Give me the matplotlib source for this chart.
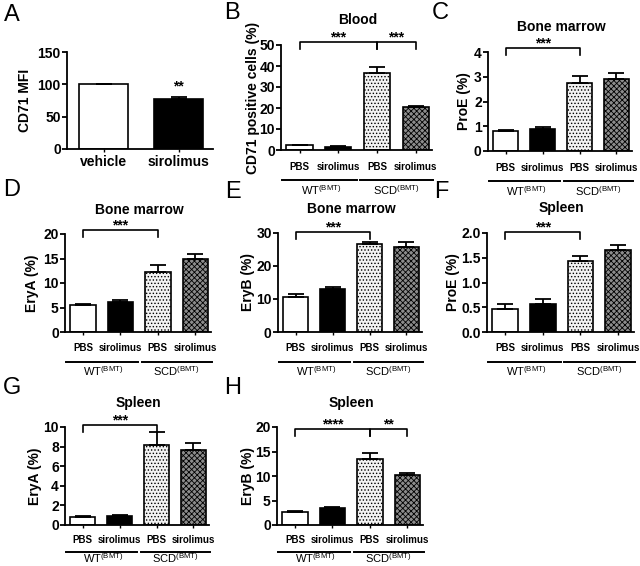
import matplotlib
matplotlib.use('Agg')
import matplotlib.pyplot as plt
import matplotlib.transforms as mtrans
import numpy as np

plt.rcParams['font.family'] = ['Liberation Sans', 'DejaVu Sans']
plt.rcParams['mathtext.fontset'] = 'custom'
plt.rcParams['mathtext.rm'] = 'Liberation Sans'
plt.rcParams['mathtext.default'] = 'regular'
plt.rcParams['hatch.linewidth'] = 0.6

# ---- data ----
a_labels = ['vehicle', 'sirolimus']
a_values = [100, 78]
a_errors = [0.5, 2.6]

bar_labels = ['PBS', 'sirolimus', 'PBS', 'sirolimus']
group_labels = ['WT$^{(BMT)}$', 'SCD$^{(BMT)}$']

b_values = [2.4, 1.6, 36.8, 20.6]
b_errors = [0.2, 0.2, 2.8, 0.4]
c_values = [0.82, 0.88, 2.73, 2.91]
c_errors = [0.02, 0.07, 0.31, 0.25]
d_values = [5.5, 6.2, 12.2, 14.9]
d_errors = [0.3, 0.3, 1.4, 1.0]
e_values = [10.5, 13.0, 26.7, 25.9]
e_errors = [0.9, 0.7, 0.5, 1.3]
f_values = [0.47, 0.56, 1.44, 1.66]
f_errors = [0.09, 0.10, 0.09, 0.10]
g_values = [0.85, 0.96, 8.2, 7.7]
g_errors = [0.04, 0.1, 1.25, 0.65]
h_values = [2.6, 3.5, 13.4, 10.2]
h_errors = [0.2, 0.2, 1.3, 0.5]

W, H = 640, 566
fig = plt.figure(figsize=(W / 100, H / 100), dpi=100)

faces = ['white', 'black', '#f2f2f2', '#8c8c8c']
hatches = [None, None, '.....', 'xxxxxx']


def px_axes(x0, x1, ytop, ybot):
    # axes box given in pixels of the 640x566 image
    return fig.add_axes([x0 / W, 1 - ybot / H, (x1 - x0) / W, (ybot - ytop) / H])


def style_axes(ax, ymax, ystep, fmt):
    for s in ['top', 'right']:
        ax.spines[s].set_visible(False)
    for s in ['left', 'bottom']:
        ax.spines[s].set_linewidth(1.3)
    ax.set_ylim(0, ymax)
    ticks = np.arange(0, ymax + ystep / 2, ystep)
    ax.set_yticks(ticks)
    ax.set_yticklabels([fmt.format(t) for t in ticks], fontsize=10, fontweight='bold')
    ax.tick_params(axis='y', length=3.5, width=1.3, pad=1)
    ax.tick_params(axis='x', length=2.5, width=1.0)


def ylab(ax, text, dx, width):
    ax.set_ylabel(text, fontsize=10, fontweight='bold')
    ax.yaxis.label.set_verticalalignment('center')
    ax.yaxis.set_label_coords(-dx / width, 0.5)


def letter(ch, x, y):
    fig.text(x / W, 1 - y / H, ch, fontsize=17, ha='center', va='center')


# ---- panel A ----
ax = px_axes(67, 213, 52, 149)
style_axes(ax, 150, 50, '{:.0f}')
xa = np.arange(len(a_values))
ax.bar(xa, a_values, 0.66, color=['white', 'black'], edgecolor='black', linewidth=1.2)
ax.errorbar(xa, a_values, yerr=[np.zeros(2), a_errors], fmt='none', ecolor='black',
            elinewidth=1.3, capsize=6, capthick=1.3)
ax.set_xlim(-0.49, 1.46)
ax.set_xticks(xa)
ax.set_xticklabels(a_labels, fontsize=10, fontweight='bold')
ax.tick_params(axis='x', pad=2)
ylab(ax, 'CD71 MFI', 42, 146)
ax.text(1, a_values[1] + a_errors[1] + 6, '**', ha='center', va='bottom', fontsize=10, fontweight='bold')
letter('A', 12, 15)

# ---- panels B-H ----
panels = [
    # letter, values, errors, ymax, step, fmt, ylabel, title, sig, box, label dx, letter pos, bracket y, title y, under offsets
    ('B', b_values, b_errors, 50, 10, '{:.0f}', 'CD71 positive cells (%)', 'Blood',
     [(0, 2, '***'), (2, 3, '***')], (281, 432, 45, 150), 28, (232, 13), 42, 20, (17, 30, 42)),
    ('C', c_values, c_errors, 4, 1, '{:.0f}', 'ProE (%)', 'Bone marrow',
     [(0, 2, '***')], (488, 632, 52, 151), 24, (440, 13), 48, 27, (17, 30, 42)),
    ('D', d_values, d_errors, 20, 5, '{:.0f}', 'EryA (%)', 'Bone marrow',
     [(0, 2, '***')], (65, 211, 234, 332), 33, (12, 190), 230, 210, (16, 30, 41)),
    ('E', e_values, e_errors, 30, 10, '{:.0f}', 'EryB (%)', 'Bone marrow',
     [(0, 2, '***')], (278, 422, 233, 332), 30, (233, 192), 232, 209, (16, 30, 41)),
    ('F', f_values, f_errors, 2.0, 0.5, '{:.1f}', 'ProE (%)', 'Spleen',
     [(0, 2, '***')], (487, 634, 233, 332), 34, (441, 192), 232, 208, (16, 30, 41)),
    ('G', g_values, g_errors, 10, 2, '{:.0f}', 'EryA (%)', 'Spleen',
     [(0, 2, '***')], (65, 209, 427, 525), 30, (12, 388), 425, 403, (15, 27, 35)),
    ('H', h_values, h_errors, 20, 5, '{:.0f}', 'EryB (%)', 'Spleen',
     [(0, 2, '****'), (2, 3, '**')], (277, 423, 427, 525), 29, (233, 388), 429, 403, (15, 27, 35)),
]

x = np.arange(4)
for (ch, vals, errs, ymax, step, fmt, ylabel, title, sig, box,
     ldx, lpos, bry, tty, under) in panels:
    ax = px_axes(*box)
    style_axes(ax, ymax, step, fmt)
    for i in range(4):
        ax.bar(x[i], vals[i], 0.68, color=faces[i], edgecolor='black',
               linewidth=1.2, hatch=hatches[i])
    ax.errorbar(x, vals, yerr=[np.zeros(4), errs], fmt='none', ecolor='black',
                elinewidth=1.3, capsize=6, capthick=1.3)
    ax.set_xlim(-0.48, 3.42)
    ax.set_xticks(x)
    ax.set_xticklabels([])
    ylab(ax, ylabel, ldx, box[1] - box[0])
    letter(ch, *lpos)

    # y in image pixels, x in data
    tr = mtrans.blended_transform_factory(ax.transData, fig.transFigure)
    fy = lambda py: 1 - py / H

    ax.text(1.5, fy(tty + 4), title, transform=tr, ha='center', va='baseline',
            fontsize=10, fontweight='bold')

    # significance brackets
    for a, b, stars in sig:
        ax.plot([a, a, b, b], [fy(bry + 7), fy(bry), fy(bry), fy(bry + 7)], color='black',
                lw=1.2, transform=tr, clip_on=False)
        ax.text((a + b) / 2, fy(bry - 1), stars, transform=tr, ha='center', va='baseline',
                fontsize=10, fontweight='bold')

    # bar labels and group labels below the axis
    ybot = box[3]
    for i in range(4):
        ax.text(x[i], fy(ybot + under[0] + 3), bar_labels[i], transform=tr, ha='center',
                va='baseline', fontsize=7, fontweight='bold')
    for g, (lo, hi) in enumerate([(-0.45, 1.47), (1.57, 3.45)]):
        ax.plot([lo, hi], [fy(ybot + under[1])] * 2, color='black', lw=1.4,
                transform=tr, clip_on=False)
        ax.text([0.55, 2.5][g], fy(ybot + under[2] + 3), group_labels[g], transform=tr,
                ha='center', va='baseline', fontsize=8)

fig.savefig('out.png', dpi=100)
